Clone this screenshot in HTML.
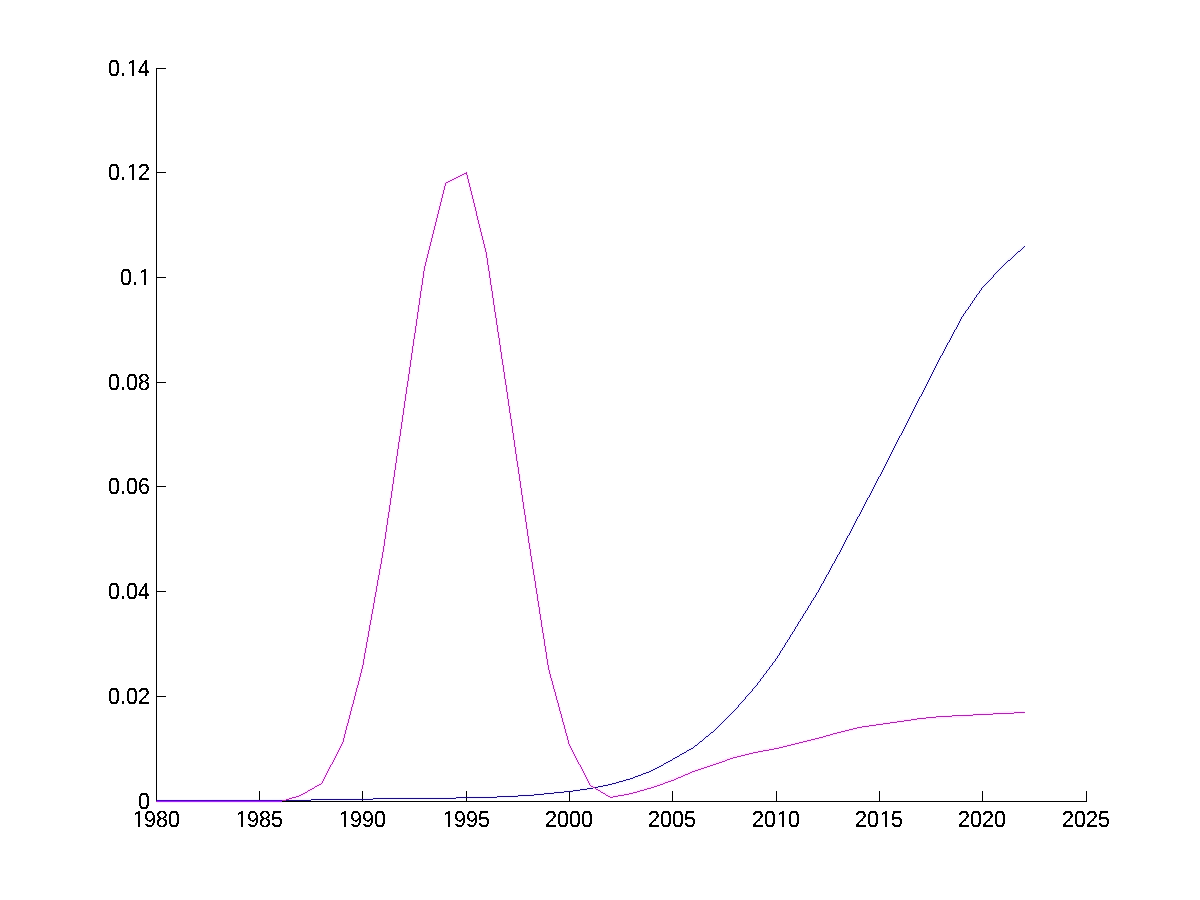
<!DOCTYPE html>
<html><head><meta charset="utf-8"><title>figure</title>
<style>
html,body{margin:0;padding:0;background:#fff;}
body{width:1200px;height:900px;overflow:hidden;}
svg{display:block;}
text{text-rendering:geometricPrecision;font-family:"Liberation Sans",sans-serif;font-size:21.5px;fill:#000;letter-spacing:0px;}
</style></head><body>
<svg width="1200" height="900" viewBox="0 0 1200 900">
<rect x="0" y="0" width="1200" height="900" fill="#fff"/>

<g fill="#000" shape-rendering="crispEdges">
<rect x="156" y="68" width="1" height="734"/>
<rect x="156" y="801" width="931" height="1"/>
<rect x="156" y="801" width="10" height="1"/>
<rect x="156" y="696" width="10" height="1"/>
<rect x="156" y="591" width="10" height="1"/>
<rect x="156" y="486" width="10" height="1"/>
<rect x="156" y="382" width="10" height="1"/>
<rect x="156" y="277" width="10" height="1"/>
<rect x="156" y="172" width="10" height="1"/>
<rect x="156" y="68" width="10" height="1"/>
<rect x="156" y="791" width="1" height="11"/>
<rect x="259" y="791" width="1" height="11"/>
<rect x="362" y="791" width="1" height="11"/>
<rect x="466" y="791" width="1" height="11"/>
<rect x="569" y="791" width="1" height="11"/>
<rect x="672" y="791" width="1" height="11"/>
<rect x="776" y="791" width="1" height="11"/>
<rect x="879" y="791" width="1" height="11"/>
<rect x="982" y="791" width="1" height="11"/>
<rect x="1086" y="791" width="1" height="11"/>
</g>
<polyline points="156.5,800.7 176.5,800.7 197.5,800.65 218.5,800.6 238.5,800.5 259.5,800.4 280.5,800.3 300.5,800.17 321.5,799.83 342.5,799.49 362.5,799.17 383.5,798.87 404.5,798.62 424.5,798.38 445.5,798.13 466.5,797.87 486.5,797.3 507.5,796.67 528.5,795.28 548.5,793.5 569.5,791.4 590.5,788.62 610.5,784.5 631.5,778.8 652.5,770.0 672.5,759.9 693.5,747.4 714.5,730.0 734.5,710.4 755.5,686.5 776.5,658.5 796.5,626.2 817.5,592.4 838.5,554.7 858.5,516.0 879.5,476.8 900.5,435.7 920.5,396.6 941.5,355.2 962.5,316.5 982.5,287.7 1003.5,265.0 1024.5,246.5" fill="none" stroke="#f3f3ff" stroke-width="3" stroke-linejoin="round"/>
<polyline points="156.5,801.5 176.5,801.5 197.5,801.5 218.5,801.5 238.5,801.5 259.5,801.5 280.5,801.5 300.5,795.7 321.5,783.3 342.5,743.2 362.5,667.5 383.5,549.7 404.5,404.8 424.5,267.7 445.5,183.3 466.5,172.8 486.5,254.7 507.5,395.0 528.5,539.0 548.5,668.3 569.5,745.8 590.5,785.4 610.5,797 631.5,793.6 652.5,787 672.5,780 693.5,771.5 714.5,764 734.5,757 755.5,752.4 776.5,748 796.5,743.5 817.5,738.8 838.5,732.7 858.5,727.8 879.5,724.3 900.5,721.3 920.5,718.7 941.5,716.9 962.5,715.9 982.5,714.3 1003.5,713.1 1024.5,712.4" fill="none" stroke="#ffe4ff" stroke-width="3" stroke-linejoin="round"/>
<rect x="156" y="801" width="931" height="1" fill="#000" shape-rendering="crispEdges"/>
<rect x="156" y="791" width="1" height="11" fill="#000" shape-rendering="crispEdges"/>
<rect x="259" y="791" width="1" height="11" fill="#000" shape-rendering="crispEdges"/>
<rect x="362" y="791" width="1" height="11" fill="#000" shape-rendering="crispEdges"/>
<rect x="466" y="791" width="1" height="11" fill="#000" shape-rendering="crispEdges"/>
<rect x="569" y="791" width="1" height="11" fill="#000" shape-rendering="crispEdges"/>
<rect x="672" y="791" width="1" height="11" fill="#000" shape-rendering="crispEdges"/>
<rect x="776" y="791" width="1" height="11" fill="#000" shape-rendering="crispEdges"/>
<rect x="879" y="791" width="1" height="11" fill="#000" shape-rendering="crispEdges"/>
<rect x="982" y="791" width="1" height="11" fill="#000" shape-rendering="crispEdges"/>
<rect x="1086" y="791" width="1" height="11" fill="#000" shape-rendering="crispEdges"/>
<path d="M156 800h155v1h-155zM311 799h62v1h-62zM373 798h83v1h-83zM456 797h41v1h-41zM497 796h21v1h-21zM518 795h16v1h-16zM534 794h10v1h-10zM544 793h10v1h-10zM554 792h10v1h-10zM564 791h9v1h-9zM573 790h7v1h-7zM580 789h7v1h-7zM587 788h6v1h-6zM593 787h5v1h-5zM598 786h5v1h-5zM603 785h5v1h-5zM608 784h4v1h-4zM612 783h4v1h-4zM616 782h3v1h-3zM619 781h4v1h-4zM623 780h3v1h-3zM626 779h4v1h-4zM630 778h3v1h-3zM633 777h2v1h-2zM635 776h3v1h-3zM638 775h3v1h-3zM641 774h2v1h-2zM643 773h3v1h-3zM646 772h3v1h-3zM649 771h2v1h-2zM651 770h2v1h-2zM653 769h2v1h-2zM655 768h2v1h-2zM657 767h2v1h-2zM659 766h2v1h-2zM661 765h2v1h-2zM663 764h1v1h-1zM664 763h2v1h-2zM666 762h2v1h-2zM668 761h2v1h-2zM670 760h2v1h-2zM672 759h1v1h-1zM673 758h2v1h-2zM675 757h2v1h-2zM677 756h2v1h-2zM679 755h1v1h-1zM680 754h2v1h-2zM682 753h2v1h-2zM684 752h2v1h-2zM686 751h1v1h-1zM687 750h2v1h-2zM689 749h2v1h-2zM691 748h2v1h-2zM693 747h1v1h-1zM694 746h1v1h-1zM695 745h2v1h-2zM697 744h1v1h-1zM698 743h1v1h-1zM699 742h1v1h-1zM700 741h2v1h-2zM702 740h1v1h-1zM703 739h1v1h-1zM704 738h1v1h-1zM705 737h1v1h-1zM706 736h2v1h-2zM708 735h1v1h-1zM709 734h1v1h-1zM710 733h1v1h-1zM711 732h2v1h-2zM713 731h1v1h-1zM714 730h1v1h-1zM715 729h1v1h-1zM716 728h1v1h-1zM717 727h1v1h-1zM718 726h1v1h-1zM719 725h1v1h-1zM720 724h1v1h-1zM721 723h1v1h-1zM722 722h1v1h-1zM723 721h1v1h-1zM724 720h1v1h-1zM725 719h1v1h-1zM726 718h1v1h-1zM727 717h1v1h-1zM728 716h1v1h-1zM729 715h1v1h-1zM730 714h1v1h-1zM731 713h1v1h-1zM732 712h1v1h-1zM733 711h1v1h-1zM734 710h1v1h-1zM735 709h1v1h-1zM736 708h1v1h-1zM737 707h1v1h-1zM738 705h1v2h-1zM739 704h1v1h-1zM740 703h1v1h-1zM741 702h1v1h-1zM742 701h1v1h-1zM743 700h1v1h-1zM744 699h1v1h-1zM745 697h1v2h-1zM746 696h1v1h-1zM747 695h1v1h-1zM748 694h1v1h-1zM749 693h1v1h-1zM750 692h1v1h-1zM751 691h1v1h-1zM752 689h1v2h-1zM753 688h1v1h-1zM754 687h1v1h-1zM755 686h1v1h-1zM756 685h1v1h-1zM757 683h1v2h-1zM758 682h1v1h-1zM759 681h1v1h-1zM760 679h1v2h-1zM761 678h1v1h-1zM762 677h1v1h-1zM763 675h1v2h-1zM764 674h1v1h-1zM765 673h1v1h-1zM766 671h1v2h-1zM767 670h1v1h-1zM768 669h1v1h-1zM769 667h1v2h-1zM770 666h1v1h-1zM771 665h1v1h-1zM772 663h1v2h-1zM773 662h1v1h-1zM774 661h1v1h-1zM775 659h1v2h-1zM776 658h1v1h-1zM777 656h1v2h-1zM778 655h1v1h-1zM779 653h1v2h-1zM780 651h1v2h-1zM781 650h1v1h-1zM782 648h1v2h-1zM783 647h1v1h-1zM784 645h1v2h-1zM785 643h1v2h-1zM786 642h1v1h-1zM787 640h1v2h-1zM788 639h1v1h-1zM789 637h1v2h-1zM790 635h1v2h-1zM791 634h1v1h-1zM792 632h1v2h-1zM793 631h1v1h-1zM794 629h1v2h-1zM795 627h1v2h-1zM796 626h1v1h-1zM797 624h1v2h-1zM798 622h1v2h-1zM799 621h1v1h-1zM800 619h1v2h-1zM801 618h1v1h-1zM802 616h1v2h-1zM803 614h1v2h-1zM804 613h1v1h-1zM805 611h1v2h-1zM806 610h1v1h-1zM807 608h1v2h-1zM808 606h1v2h-1zM809 605h1v1h-1zM810 603h1v2h-1zM811 601h1v2h-1zM812 600h1v1h-1zM813 598h1v2h-1zM814 597h1v1h-1zM815 595h1v2h-1zM816 593h1v2h-1zM817 592h1v1h-1zM818 590h1v2h-1zM819 588h1v2h-1zM820 586h1v2h-1zM821 584h1v2h-1zM822 583h1v1h-1zM823 581h1v2h-1zM824 579h1v2h-1zM825 577h1v2h-1zM826 575h1v2h-1zM827 574h1v1h-1zM828 572h1v2h-1zM829 570h1v2h-1zM830 568h1v2h-1zM831 566h1v2h-1zM832 564h1v2h-1zM833 563h1v1h-1zM834 561h1v2h-1zM835 559h1v2h-1zM836 557h1v2h-1zM837 555h1v2h-1zM838 554h1v1h-1zM839 552h1v2h-1zM840 550h1v2h-1zM841 548h1v2h-1zM842 546h1v2h-1zM843 544h1v2h-1zM844 542h1v2h-1zM845 540h1v2h-1zM846 538h1v2h-1zM847 536h1v2h-1zM848 535h1v1h-1zM849 533h1v2h-1zM850 531h1v2h-1zM851 529h1v2h-1zM852 527h1v2h-1zM853 525h1v2h-1zM854 523h1v2h-1zM855 521h1v2h-1zM856 519h1v2h-1zM857 517h1v2h-1zM858 516h1v1h-1zM859 514h1v2h-1zM860 512h1v2h-1zM861 510h1v2h-1zM862 508h1v2h-1zM863 506h1v2h-1zM864 504h1v2h-1zM865 502h1v2h-1zM866 500h1v2h-1zM867 498h1v2h-1zM868 497h1v1h-1zM869 495h1v2h-1zM870 493h1v2h-1zM871 491h1v2h-1zM872 489h1v2h-1zM873 487h1v2h-1zM874 485h1v2h-1zM875 483h1v2h-1zM876 481h1v2h-1zM877 479h1v2h-1zM878 477h1v2h-1zM879 476h1v1h-1zM880 474h1v2h-1zM881 472h1v2h-1zM882 470h1v2h-1zM883 468h1v2h-1zM884 466h1v2h-1zM885 464h1v2h-1zM886 462h1v2h-1zM887 460h1v2h-1zM888 458h1v2h-1zM889 456h1v2h-1zM890 454h1v2h-1zM891 452h1v2h-1zM892 450h1v2h-1zM893 448h1v2h-1zM894 446h1v2h-1zM895 444h1v2h-1zM896 442h1v2h-1zM897 440h1v2h-1zM898 438h1v2h-1zM899 436h1v2h-1zM900 435h1v1h-1zM901 433h1v2h-1zM902 431h1v2h-1zM903 429h1v2h-1zM904 427h1v2h-1zM905 425h1v2h-1zM906 423h1v2h-1zM907 421h1v2h-1zM908 419h1v2h-1zM909 417h1v2h-1zM910 415h1v2h-1zM911 413h1v2h-1zM912 411h1v2h-1zM913 409h1v2h-1zM914 407h1v2h-1zM915 405h1v2h-1zM916 403h1v2h-1zM917 401h1v2h-1zM918 399h1v2h-1zM919 397h1v2h-1zM920 396h1v1h-1zM921 394h1v2h-1zM922 392h1v2h-1zM923 390h1v2h-1zM924 388h1v2h-1zM925 386h1v2h-1zM926 384h1v2h-1zM927 382h1v2h-1zM928 380h1v2h-1zM929 378h1v2h-1zM930 376h1v2h-1zM931 374h1v2h-1zM932 372h1v2h-1zM933 370h1v2h-1zM934 368h1v2h-1zM935 366h1v2h-1zM936 364h1v2h-1zM937 362h1v2h-1zM938 360h1v2h-1zM939 358h1v2h-1zM940 356h1v2h-1zM941 355h1v1h-1zM942 353h1v2h-1zM943 351h1v2h-1zM944 349h1v2h-1zM945 347h1v2h-1zM946 345h1v2h-1zM947 343h1v2h-1zM948 342h1v1h-1zM949 340h1v2h-1zM950 338h1v2h-1zM951 336h1v2h-1zM952 334h1v2h-1zM953 332h1v2h-1zM954 330h1v2h-1zM955 329h1v1h-1zM956 327h1v2h-1zM957 325h1v2h-1zM958 323h1v2h-1zM959 321h1v2h-1zM960 319h1v2h-1zM961 317h1v2h-1zM962 316h1v1h-1zM963 314h1v2h-1zM964 313h1v1h-1zM965 311h1v2h-1zM966 310h1v1h-1zM967 309h1v1h-1zM968 307h1v2h-1zM969 306h1v1h-1zM970 304h1v2h-1zM971 303h1v1h-1zM972 301h1v2h-1zM973 300h1v1h-1zM974 298h1v2h-1zM975 297h1v1h-1zM976 295h1v2h-1zM977 294h1v1h-1zM978 293h1v1h-1zM979 291h1v2h-1zM980 290h1v1h-1zM981 288h1v2h-1zM982 287h1v1h-1zM983 286h1v1h-1zM984 285h1v1h-1zM985 284h1v1h-1zM986 283h1v1h-1zM987 282h1v1h-1zM988 281h1v1h-1zM989 280h1v1h-1zM990 279h1v1h-1zM991 278h1v1h-1zM992 277h1v1h-1zM993 275h1v2h-1zM994 274h1v1h-1zM995 273h1v1h-1zM996 272h1v1h-1zM997 271h1v1h-1zM998 270h1v1h-1zM999 269h1v1h-1zM1000 268h1v1h-1zM1001 267h1v1h-1zM1002 266h1v1h-1zM1003 265h1v1h-1zM1004 264h1v1h-1zM1005 263h1v1h-1zM1006 262h1v1h-1zM1007 261h1v1h-1zM1008 260h2v1h-2zM1010 259h1v1h-1zM1011 258h1v1h-1zM1012 257h1v1h-1zM1013 256h1v1h-1zM1014 255h1v1h-1zM1015 254h1v1h-1zM1016 253h1v1h-1zM1017 252h1v1h-1zM1018 251h2v1h-2zM1020 250h1v1h-1zM1021 249h1v1h-1zM1022 248h1v1h-1zM1023 247h1v1h-1zM1024 246h1v1h-1z" fill="#1a0c7a" shape-rendering="crispEdges"/>
<path d="M156 801h126v1h-126zM282 800h4v1h-4zM286 799h3v1h-3zM289 798h3v1h-3zM292 797h4v1h-4zM296 796h3v1h-3zM299 795h2v1h-2zM301 794h2v1h-2zM303 793h2v1h-2zM305 792h2v1h-2zM307 791h1v1h-1zM308 790h2v1h-2zM310 789h2v1h-2zM312 788h2v1h-2zM314 787h1v1h-1zM315 786h2v1h-2zM317 785h2v1h-2zM319 784h2v1h-2zM321 783h1v1h-1zM322 781h1v2h-1zM323 779h1v2h-1zM324 777h1v2h-1zM325 775h1v2h-1zM326 773h1v2h-1zM327 771h1v2h-1zM328 769h1v2h-1zM329 767h1v2h-1zM330 765h1v2h-1zM331 764h1v1h-1zM332 762h1v2h-1zM333 760h1v2h-1zM334 758h1v2h-1zM335 756h1v2h-1zM336 754h1v2h-1zM337 752h1v2h-1zM338 750h1v2h-1zM339 748h1v2h-1zM340 746h1v2h-1zM341 744h1v2h-1zM342 742h1v2h-1zM343 738h1v4h-1zM344 734h1v4h-1zM345 730h1v4h-1zM346 726h1v4h-1zM347 723h1v3h-1zM348 719h1v4h-1zM349 715h1v4h-1zM350 711h1v4h-1zM351 707h1v4h-1zM352 704h1v3h-1zM353 700h1v4h-1zM354 696h1v4h-1zM355 692h1v4h-1zM356 688h1v4h-1zM357 685h1v3h-1zM358 681h1v4h-1zM359 677h1v4h-1zM360 673h1v4h-1zM361 669h1v4h-1zM362 665h1v4h-1zM363 659h1v6h-1zM364 653h1v6h-1zM365 648h1v5h-1zM366 642h1v6h-1zM367 637h1v5h-1zM368 631h1v6h-1zM369 625h1v6h-1zM370 620h1v5h-1zM371 614h1v6h-1zM372 609h1v5h-1zM373 603h1v6h-1zM374 597h1v6h-1zM375 592h1v5h-1zM376 586h1v6h-1zM377 580h1v6h-1zM378 575h1v5h-1zM379 569h1v6h-1zM380 564h1v5h-1zM381 558h1v6h-1zM382 552h1v6h-1zM383 546h1v6h-1zM384 539h1v7h-1zM385 532h1v7h-1zM386 525h1v7h-1zM387 518h1v7h-1zM388 512h1v6h-1zM389 505h1v7h-1zM390 498h1v7h-1zM391 491h1v7h-1zM392 484h1v7h-1zM393 477h1v7h-1zM394 470h1v7h-1zM395 463h1v7h-1zM396 456h1v7h-1zM397 449h1v7h-1zM398 442h1v7h-1zM399 436h1v6h-1zM400 429h1v7h-1zM401 422h1v7h-1zM402 415h1v7h-1zM403 408h1v7h-1zM404 401h1v7h-1zM405 394h1v7h-1zM406 387h1v7h-1zM407 381h1v6h-1zM408 374h1v7h-1zM409 367h1v7h-1zM410 360h1v7h-1zM411 353h1v7h-1zM412 346h1v7h-1zM413 339h1v7h-1zM414 333h1v6h-1zM415 326h1v7h-1zM416 319h1v7h-1zM417 312h1v7h-1zM418 305h1v7h-1zM419 298h1v7h-1zM420 291h1v7h-1zM421 285h1v6h-1zM422 278h1v7h-1zM423 271h1v7h-1zM424 266h1v5h-1zM425 262h1v4h-1zM426 258h1v4h-1zM427 254h1v4h-1zM428 250h1v4h-1zM429 246h1v4h-1zM430 242h1v4h-1zM431 238h1v4h-1zM432 234h1v4h-1zM433 230h1v4h-1zM434 226h1v4h-1zM435 222h1v4h-1zM436 218h1v4h-1zM437 214h1v4h-1zM438 210h1v4h-1zM439 206h1v4h-1zM440 202h1v4h-1zM441 198h1v4h-1zM442 194h1v4h-1zM443 190h1v4h-1zM444 186h1v4h-1zM445 183h1v3h-1zM446 182h2v1h-2zM448 181h2v1h-2zM450 180h2v1h-2zM452 179h2v1h-2zM454 178h2v1h-2zM456 177h2v1h-2zM458 176h2v1h-2zM460 175h2v1h-2zM462 174h2v1h-2zM464 173h2v1h-2zM466 172h1v3h-1zM467 175h1v4h-1zM468 179h1v4h-1zM469 183h1v4h-1zM470 187h1v4h-1zM471 191h1v4h-1zM472 195h1v4h-1zM473 199h1v4h-1zM474 203h1v4h-1zM475 207h1v4h-1zM476 211h1v5h-1zM477 216h1v4h-1zM478 220h1v4h-1zM479 224h1v4h-1zM480 228h1v4h-1zM481 232h1v4h-1zM482 236h1v4h-1zM483 240h1v4h-1zM484 244h1v4h-1zM485 248h1v4h-1zM486 252h1v6h-1zM487 258h1v7h-1zM488 265h1v6h-1zM489 271h1v7h-1zM490 278h1v7h-1zM491 285h1v6h-1zM492 291h1v7h-1zM493 298h1v7h-1zM494 305h1v7h-1zM495 312h1v6h-1zM496 318h1v7h-1zM497 325h1v7h-1zM498 332h1v6h-1zM499 338h1v7h-1zM500 345h1v7h-1zM501 352h1v7h-1zM502 359h1v6h-1zM503 365h1v7h-1zM504 372h1v7h-1zM505 379h1v6h-1zM506 385h1v7h-1zM507 392h1v7h-1zM508 399h1v7h-1zM509 406h1v7h-1zM510 413h1v6h-1zM511 419h1v7h-1zM512 426h1v7h-1zM513 433h1v7h-1zM514 440h1v7h-1zM515 447h1v7h-1zM516 454h1v7h-1zM517 461h1v6h-1zM518 467h1v7h-1zM519 474h1v7h-1zM520 481h1v7h-1zM521 488h1v7h-1zM522 495h1v7h-1zM523 502h1v7h-1zM524 509h1v6h-1zM525 515h1v7h-1zM526 522h1v7h-1zM527 529h1v7h-1zM528 536h1v7h-1zM529 543h1v6h-1zM530 549h1v7h-1zM531 556h1v6h-1zM532 562h1v7h-1zM533 569h1v6h-1zM534 575h1v6h-1zM535 581h1v7h-1zM536 588h1v6h-1zM537 594h1v7h-1zM538 601h1v6h-1zM539 607h1v7h-1zM540 614h1v6h-1zM541 620h1v7h-1zM542 627h1v6h-1zM543 633h1v6h-1zM544 639h1v7h-1zM545 646h1v6h-1zM546 652h1v7h-1zM547 659h1v6h-1zM548 665h1v5h-1zM549 670h1v4h-1zM550 674h1v4h-1zM551 678h1v3h-1zM552 681h1v4h-1zM553 685h1v4h-1zM554 689h1v3h-1zM555 692h1v4h-1zM556 696h1v4h-1zM557 700h1v3h-1zM558 703h1v4h-1zM559 707h1v4h-1zM560 711h1v3h-1zM561 714h1v4h-1zM562 718h1v4h-1zM563 722h1v3h-1zM564 725h1v4h-1zM565 729h1v4h-1zM566 733h1v3h-1zM567 736h1v4h-1zM568 740h1v4h-1zM569 744h1v2h-1zM570 746h1v2h-1zM571 748h1v2h-1zM572 750h1v2h-1zM573 752h1v2h-1zM574 754h1v2h-1zM575 756h1v2h-1zM576 758h1v2h-1zM577 760h1v2h-1zM578 762h1v2h-1zM579 764h1v1h-1zM580 765h1v2h-1zM581 767h1v2h-1zM582 769h1v2h-1zM583 771h1v2h-1zM584 773h1v2h-1zM585 775h1v2h-1zM586 777h1v2h-1zM587 779h1v2h-1zM588 781h1v2h-1zM589 783h1v2h-1zM590 785h1v1h-1zM591 786h2v1h-2zM593 787h2v1h-2zM595 788h1v1h-1zM596 789h2v1h-2zM598 790h2v1h-2zM600 791h1v1h-1zM601 792h2v1h-2zM603 793h2v1h-2zM605 794h1v1h-1zM606 795h2v1h-2zM608 796h2v1h-2zM610 797h3v1h-3zM613 796h5v1h-5zM618 795h6v1h-6zM624 794h5v1h-5zM629 793h4v1h-4zM633 792h4v1h-4zM637 791h3v1h-3zM640 790h4v1h-4zM644 789h3v1h-3zM647 788h4v1h-4zM651 787h3v1h-3zM654 786h3v1h-3zM657 785h3v1h-3zM660 784h3v1h-3zM663 783h2v1h-2zM665 782h3v1h-3zM668 781h3v1h-3zM671 780h3v1h-3zM674 779h2v1h-2zM676 778h2v1h-2zM678 777h3v1h-3zM681 776h2v1h-2zM683 775h2v1h-2zM685 774h3v1h-3zM688 773h2v1h-2zM690 772h2v1h-2zM692 771h3v1h-3zM695 770h3v1h-3zM698 769h3v1h-3zM701 768h3v1h-3zM704 767h3v1h-3zM707 766h3v1h-3zM710 765h3v1h-3zM713 764h3v1h-3zM716 763h3v1h-3zM719 762h3v1h-3zM722 761h3v1h-3zM725 760h2v1h-2zM727 759h3v1h-3zM730 758h3v1h-3zM733 757h4v1h-4zM737 756h4v1h-4zM741 755h4v1h-4zM745 754h4v1h-4zM749 753h4v1h-4zM753 752h5v1h-5zM758 751h5v1h-5zM763 750h6v1h-6zM769 749h5v1h-5zM774 748h5v1h-5zM779 747h4v1h-4zM783 746h4v1h-4zM787 745h4v1h-4zM791 744h4v1h-4zM795 743h4v1h-4zM799 742h4v1h-4zM803 741h4v1h-4zM807 740h4v1h-4zM811 739h4v1h-4zM815 738h4v1h-4zM819 737h4v1h-4zM823 736h3v1h-3zM826 735h4v1h-4zM830 734h3v1h-3zM833 733h4v1h-4zM837 732h4v1h-4zM841 731h4v1h-4zM845 730h4v1h-4zM849 729h4v1h-4zM853 728h4v1h-4zM857 727h5v1h-5zM862 726h7v1h-7zM869 725h7v1h-7zM876 724h7v1h-7zM883 723h7v1h-7zM890 722h7v1h-7zM897 721h7v1h-7zM904 720h7v1h-7zM911 719h6v1h-6zM917 718h9v1h-9zM926 717h10v1h-10zM936 716h16v1h-16zM952 715h21v1h-21zM973 714h20v1h-20zM993 713h21v1h-21zM1014 712h11v1h-11z" fill="#a62aa8" shape-rendering="crispEdges"/>
<rect x="157" y="800" width="125" height="1" fill="#5200c0" shape-rendering="crispEdges"/>
<rect x="157" y="801" width="125" height="1" fill="#9a2cf4" shape-rendering="crispEdges"/>
<defs><filter id="bw" x="0" y="0" width="1200" height="900" filterUnits="userSpaceOnUse" color-interpolation-filters="sRGB"><feComponentTransfer><feFuncA type="discrete" tableValues="0 0 1 1 1"/></feComponentTransfer></filter></defs>
<g filter="url(#bw)">
<text transform="translate(0,808.8) scale(1,1.08)" x="138" y="0">0</text>
<text transform="translate(0,703.8) scale(1,1.08)" x="108 120 126 138" y="0">0.02</text>
<text transform="translate(0,598.8) scale(1,1.08)" x="108 120 126 138" y="0">0.04</text>
<text transform="translate(0,493.8) scale(1,1.08)" x="108 120 126 138" y="0">0.06</text>
<text transform="translate(0,389.8) scale(1,1.08)" x="108 120 126 138" y="0">0.08</text>
<text transform="translate(0,284.8) scale(1,1.08)" x="120 132 138.7" y="0">0.1</text>
<text transform="translate(0,179.8) scale(1,1.08)" x="108 120 126.7 138" y="0">0.12</text>
<text transform="translate(0,75.8) scale(1,1.08)" x="108 120 126.7 138" y="0">0.14</text>
<text transform="translate(0,826.8) scale(1,1.08)" x="132.7 144 156 168" y="0">1980</text>
<text transform="translate(0,826.8) scale(1,1.08)" x="235.7 247 259 271" y="0">1985</text>
<text transform="translate(0,826.8) scale(1,1.08)" x="338.7 350 362 374" y="0">1990</text>
<text transform="translate(0,826.8) scale(1,1.08)" x="442.7 454 466 478" y="0">1995</text>
<text transform="translate(0,826.8) scale(1,1.08)" x="545 557 569 581" y="0">2000</text>
<text transform="translate(0,826.8) scale(1,1.08)" x="648 660 672 684" y="0">2005</text>
<text transform="translate(0,826.8) scale(1,1.08)" x="752 764 776.7 788" y="0">2010</text>
<text transform="translate(0,826.8) scale(1,1.08)" x="855 867 879.7 891" y="0">2015</text>
<text transform="translate(0,826.8) scale(1,1.08)" x="958 970 982 994" y="0">2020</text>
<text transform="translate(0,826.8) scale(1,1.08)" x="1062 1074 1086 1098" y="0">2025</text>
</g>
<rect x="139.34" y="282.62" width="4.72" height="2.93" fill="#fff" shape-rendering="crispEdges"/>
<rect x="146.06" y="282.62" width="4.60" height="2.93" fill="#fff" shape-rendering="crispEdges"/>
<rect x="127.34" y="177.62" width="4.72" height="2.93" fill="#fff" shape-rendering="crispEdges"/>
<rect x="134.06" y="177.62" width="4.60" height="2.93" fill="#fff" shape-rendering="crispEdges"/>
<rect x="127.34" y="73.62" width="4.72" height="2.93" fill="#fff" shape-rendering="crispEdges"/>
<rect x="134.06" y="73.62" width="4.60" height="2.93" fill="#fff" shape-rendering="crispEdges"/>
<rect x="133.34" y="824.62" width="4.72" height="2.93" fill="#fff" shape-rendering="crispEdges"/>
<rect x="140.06" y="824.62" width="4.60" height="2.93" fill="#fff" shape-rendering="crispEdges"/>
<rect x="236.34" y="824.62" width="4.72" height="2.93" fill="#fff" shape-rendering="crispEdges"/>
<rect x="243.06" y="824.62" width="4.60" height="2.93" fill="#fff" shape-rendering="crispEdges"/>
<rect x="339.34" y="824.62" width="4.72" height="2.93" fill="#fff" shape-rendering="crispEdges"/>
<rect x="346.06" y="824.62" width="4.60" height="2.93" fill="#fff" shape-rendering="crispEdges"/>
<rect x="443.34" y="824.62" width="4.72" height="2.93" fill="#fff" shape-rendering="crispEdges"/>
<rect x="450.06" y="824.62" width="4.60" height="2.93" fill="#fff" shape-rendering="crispEdges"/>
<rect x="777.34" y="824.62" width="4.72" height="2.93" fill="#fff" shape-rendering="crispEdges"/>
<rect x="784.06" y="824.62" width="4.60" height="2.93" fill="#fff" shape-rendering="crispEdges"/>
<rect x="880.34" y="824.62" width="4.72" height="2.93" fill="#fff" shape-rendering="crispEdges"/>
<rect x="887.06" y="824.62" width="4.60" height="2.93" fill="#fff" shape-rendering="crispEdges"/>
</svg></body></html>
